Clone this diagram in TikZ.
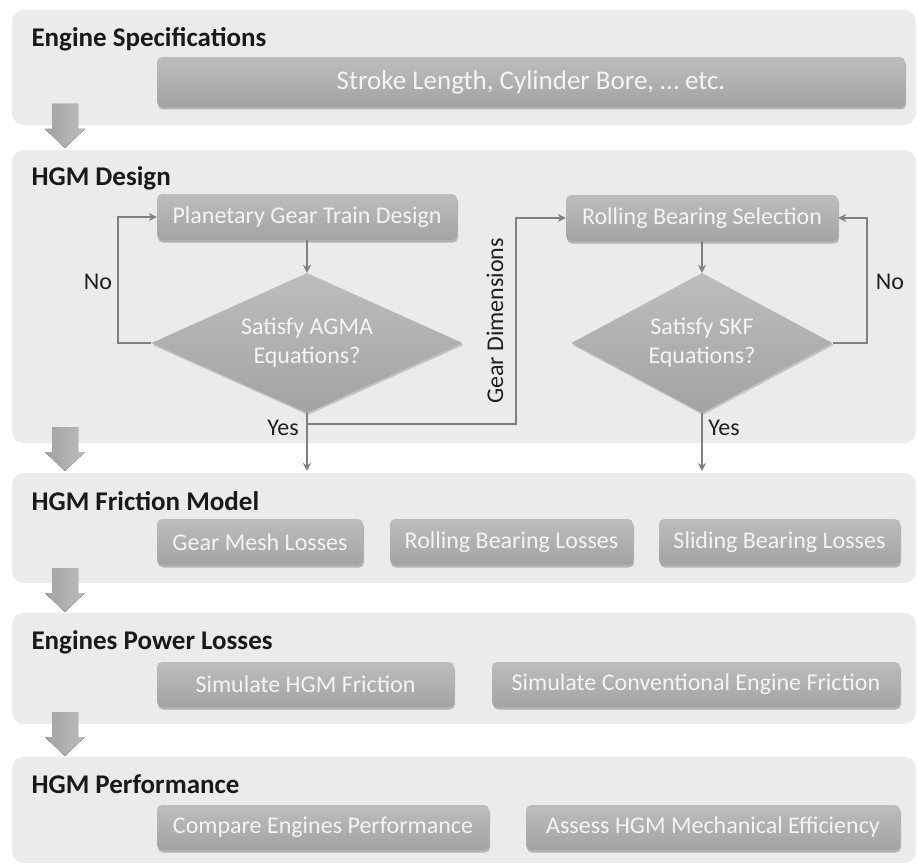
\documentclass[tikz,border=0pt]{standalone}
\usepackage{fontspec}
\setmainfont{Carlito}
\usetikzlibrary{shapes.geometric,arrows.meta,shadows}
\definecolor{panelfill}{HTML}{EBEBEB}
\definecolor{boxtop}{HTML}{BDBDBD}
\definecolor{boxbot}{HTML}{A3A3A3}
\definecolor{boxtext}{HTML}{F4F4F4}
\definecolor{linegray}{HTML}{808080}
\definecolor{arrowleft}{HTML}{A2A2A2}
\definecolor{arrowright}{HTML}{BCBCBC}
\begin{document}
\begin{tikzpicture}[x=1pt,y=-1pt,
  panel/.style={draw=none, fill=panelfill, rounded corners=12pt, inner sep=0pt},
  stepbox/.style={draw=none, rounded corners=5pt, top color=boxtop, bottom color=boxbot,
    text=boxtext, font=\fontsize{24}{27}\selectfont, inner sep=0pt,
    drop shadow={shadow xshift=1pt, shadow yshift=-2.5pt, opacity=0.35, fill=black!70}},
  decision/.style={diamond, draw=none, top color=boxtop, bottom color=boxbot, text=boxtext,
    font=\fontsize{24}{29}\selectfont, align=center, inner sep=0pt,
    drop shadow={shadow xshift=1pt, shadow yshift=-2pt, opacity=0.25, fill=black!70}},
  link/.style={draw=linegray, line width=2pt, -{Stealth[length=8pt,width=8pt]}},
  title/.style={anchor=base west, font=\bfseries\fontsize{27}{30}\selectfont, text=black!90},
  lbl/.style={font=\fontsize{24}{27}\selectfont, text=black!88},
  bigarrow/.pic={
    \fill[left color=arrowleft, right color=arrowright]
      (-13,0) -- (13,0) -- (13,25) -- (20,25) -- (0,44) -- (-20,25) -- (-13,25) -- cycle;
  }]
\useasboundingbox (0,0) rectangle (918,864);

% stage panels
\node[panel, minimum width=904pt, minimum height=115pt] (p1) at (464,67.5) {};
\node[panel, minimum width=904pt, minimum height=293pt] (p2) at (464,296.5) {};
\node[panel, minimum width=904pt, minimum height=110pt] (p3) at (464,528) {};
\node[panel, minimum width=904pt, minimum height=111pt] (p4) at (464,668.5) {};
\node[panel, minimum width=904pt, minimum height=106pt] (p5) at (464,810) {};

% arrows between stages
\pic at (65,104) {bigarrow};
\pic at (65,427) {bigarrow};
\pic at (65,568) {bigarrow};
\pic at (65,712) {bigarrow};

% stage titles
\node[title] (t1) at (28,47) {Engine Specifications};
\node[title] (t2) at (28,185) {HGM Design};
\node[title] (t3) at (28,510) {HGM Friction Model};
\node[title] (t4) at (28,649) {Engines Power Losses};
\node[title] (t5) at (28,793) {HGM Performance};

% engine specifications
\node[stepbox, font=\fontsize{27}{30}\selectfont, minimum width=748pt, minimum height=50pt] (spec) at (531,82) {Stroke Length, Cylinder Bore, … etc.};

% HGM design loop
\node[stepbox, minimum width=300pt, minimum height=46pt] (pgt) at (307,217) {Planetary Gear Train Design};
\node[decision, aspect=2.22, minimum width=311pt, minimum height=140pt] (agma) at (307,343) {Satisfy AGMA\\Equations?};
\node[stepbox, minimum width=272pt, minimum height=46pt] (rbs) at (702,218) {Rolling Bearing Selection};
\node[decision, aspect=1.86, minimum width=261pt, minimum height=140pt] (skf) at (702,343) {Satisfy SKF\\Equations?};

\coordinate (gdstart) at (307,424);
\coordinate (gdturn) at (516,424);
\coordinate (yesL) at (307,471);
\coordinate (yesR) at (702,471);

\draw[link] (pgt) -- (agma);
\draw[link] (agma.west) -- ++(-33,0) |- (pgt.west);
\draw[link] (agma.south) -- (yesL);
\draw[link] (gdstart) -- (gdturn) |- (rbs.west);
\draw[link] (rbs) -- (skf);
\draw[link] (skf.east) -- ++(34,0) |- (rbs.east);
\draw[link] (skf.south) -- (yesR);

\node[lbl] (noL) at (98,282) {No};
\node[lbl] (noR) at (890,282) {No};
\node[lbl] (yesLl) at (283,428) {Yes};
\node[lbl] (yesRl) at (724,428) {Yes};
\node[lbl, rotate=90] (gd) at (495,321) {Gear Dimensions};

% HGM friction model
\node[stepbox, minimum width=206pt, minimum height=46pt] (gml) at (260,542) {Gear Mesh Losses};
\node[stepbox, minimum width=243pt, minimum height=46pt] (rbl) at (511.5,542) {Rolling Bearing Losses};
\node[stepbox, minimum width=241pt, minimum height=46pt] (sbl) at (779.5,542) {Sliding Bearing Losses};

% engines power losses
\node[stepbox, minimum width=297pt, minimum height=45pt] (shf) at (305.5,684.5) {Simulate HGM Friction};
\node[stepbox, minimum width=408pt, minimum height=45pt] (scef) at (696,684.5) {Simulate Conventional Engine Friction};

% HGM performance
\node[stepbox, minimum width=332pt, minimum height=45pt] (cep) at (323,827.5) {Compare Engines Performance};
\node[stepbox, minimum width=374pt, minimum height=45pt] (ahme) at (713,827.5) {Assess HGM Mechanical Efficiency};
\end{tikzpicture}
\end{document}
